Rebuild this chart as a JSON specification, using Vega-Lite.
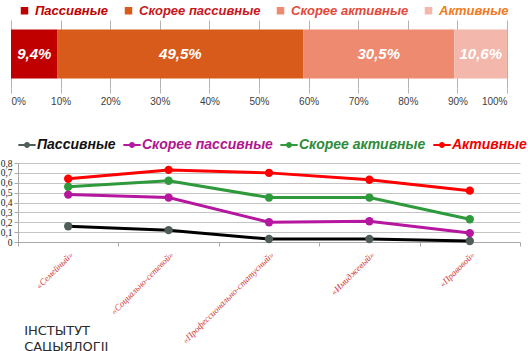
{
  "$schema": "https://vega.github.io/schema/vega-lite/v6.json",
  "background": "white",
  "padding": {"left": 0, "top": 4, "right": 6, "bottom": 0},
  "spacing": 30,
  "title": {
    "text": ["ІНСТЫТУТ", "САЦЫЯЛОГІІ"], "orient": "bottom", "anchor": "start", "frame": "bounds",
    "offset": -20, "dx": 24, "font": "DejaVu Sans", "fontSize": 13, "fontWeight": "normal",
    "color": "#2a2a2a", "lineHeight": 16, "baseline": "top"
  },
  "resolve": {"scale": {"color": "independent", "stroke": "independent"}, "legend": {"color": "independent", "stroke": "independent"}},
  "config": {
    "view": {"stroke": null},
    "font": "Liberation Sans",
    "locale": {"number": {"decimal": ",", "thousands": " ", "grouping": [3], "currency": ["", ""]}}
  },
  "vconcat": [
    {
      "width": 489,
      "height": 68,
      "data": {"values": [
        {"g": "all", "cat": "Пассивные", "share": 0.094, "ord": 1},
        {"g": "all", "cat": "Скорее пассивные", "share": 0.495, "ord": 2},
        {"g": "all", "cat": "Скорее активные", "share": 0.305, "ord": 3},
        {"g": "all", "cat": "Активные", "share": 0.106, "ord": 4}
      ]},
      "transform": [
        {"stack": "share", "groupby": ["g"], "sort": [{"field": "ord"}], "as": ["s0", "s1"]},
        {"calculate": "(datum.s0 + datum.s1) / 2", "as": "mid"}
      ],
      "encoding": {
        "y": {"field": "g", "type": "nominal", "axis": null, "scale": {"paddingInner": 0, "paddingOuter": 0.194}}
      },
      "layer": [
        {
          "mark": {"type": "bar"},
          "encoding": {
            "x": {
              "field": "s0", "type": "quantitative",
              "scale": {"domain": [0, 1], "range": [-7, 489]},
              "axis": {
                "values": [0, 0.1, 0.2, 0.3, 0.4, 0.5, 0.6, 0.7, 0.8, 0.9, 1],
                "format": ".0%", "title": null, "grid": true, "gridColor": "#b4b4b4",
                "domain": false, "tickColor": "#b4b4b4", "tickSize": 5,
                "labelFontSize": 10, "labelColor": "#404040", "labelPadding": 3
              }
            },
            "x2": {"field": "s1"},
            "color": {
              "field": "cat", "type": "nominal",
              "scale": {
                "domain": ["Пассивные", "Скорее пассивные", "Скорее активные", "Активные"],
                "range": ["#c00000", "#d95b1b", "#ed8a6f", "#f3b8ab"]
              },
              "legend": {
                "orient": "top", "direction": "horizontal", "title": null,
                "symbolType": "square", "symbolSize": 56, "symbolStrokeWidth": 0,
                "labelFontSize": 13, "labelFontWeight": "bold", "labelFontStyle": "italic",
                "columnPadding": 13, "labelOffset": 4, "offset": 2,
                "labelColor": {"expr": "datum.value == 'Пассивные' ? '#c00000' : datum.value == 'Скорее пассивные' ? '#c8161b' : datum.value == 'Скорее активные' ? '#e2493a' : '#f07a20'"}
              }
            }
          }
        },
        {
          "mark": {"type": "text", "color": "white", "fontWeight": "bold", "fontStyle": "italic", "fontSize": 15},
          "encoding": {
            "x": {"field": "mid", "type": "quantitative"},
            "text": {"field": "share", "type": "quantitative", "format": ".1%"}
          }
        }
      ]
    },
    {
      "width": 502,
      "height": 79,
      "data": {"values": [
        {"type": "«Семейный»", "series": "Пассивные", "v": 0.16},
        {"type": "«Социально-сетевой»", "series": "Пассивные", "v": 0.12},
        {"type": "«Профессионально-статусный»", "series": "Пассивные", "v": 0.03},
        {"type": "«Имиджевый»", "series": "Пассивные", "v": 0.03},
        {"type": "«Правовой»", "series": "Пассивные", "v": 0.01},
        {"type": "«Семейный»", "series": "Скорее пассивные", "v": 0.48},
        {"type": "«Социально-сетевой»", "series": "Скорее пассивные", "v": 0.45},
        {"type": "«Профессионально-статусный»", "series": "Скорее пассивные", "v": 0.20},
        {"type": "«Имиджевый»", "series": "Скорее пассивные", "v": 0.21},
        {"type": "«Правовой»", "series": "Скорее пассивные", "v": 0.09},
        {"type": "«Семейный»", "series": "Скорее активные", "v": 0.56},
        {"type": "«Социально-сетевой»", "series": "Скорее активные", "v": 0.62},
        {"type": "«Профессионально-статусный»", "series": "Скорее активные", "v": 0.45},
        {"type": "«Имиджевый»", "series": "Скорее активные", "v": 0.45},
        {"type": "«Правовой»", "series": "Скорее активные", "v": 0.23},
        {"type": "«Семейный»", "series": "Активные", "v": 0.64},
        {"type": "«Социально-сетевой»", "series": "Активные", "v": 0.73},
        {"type": "«Профессионально-статусный»", "series": "Активные", "v": 0.70},
        {"type": "«Имиджевый»", "series": "Активные", "v": 0.63},
        {"type": "«Правовой»", "series": "Активные", "v": 0.52}
      ]},
      "encoding": {
        "x": {
          "field": "type", "type": "nominal", "sort": null,
          "scale": {"type": "band", "paddingInner": 0, "paddingOuter": 0},
          "axis": {
            "title": null, "labelAngle": -45, "labelFont": "Liberation Serif", "labelFontStyle": "italic",
            "labelFontSize": 9, "labelColor": "#d0393a", "tickBand": "extent",
            "domainColor": "#a8a8a8", "tickColor": "#a8a8a8", "tickSize": 4, "labelPadding": 4
          }
        },
        "y": {
          "field": "v", "type": "quantitative",
          "scale": {"domain": [0, 0.8]},
          "axis": {
            "title": null, "values": [0, 0.1, 0.2, 0.3, 0.4, 0.5, 0.6, 0.7, 0.8],
            "format": ".1~f", "grid": true, "gridColor": "#c4c4c4", "labelOverlap": false,
            "domainColor": "#a8a8a8", "tickColor": "#a8a8a8", "tickSize": 4,
            "labelFont": "Liberation Serif", "labelFontSize": 9.5, "labelColor": "#202020", "labelPadding": 2
          }
        }
      },
      "layer": [
        {
          "mark": {"type": "line", "strokeWidth": 3},
          "encoding": {
            "stroke": {
              "field": "series", "type": "nominal",
              "scale": {
                "domain": ["Активные", "Скорее активные", "Скорее пассивные", "Пассивные"],
                "range": ["#ff0000", "#2e9a3c", "#b5179e", "#000000"]
              },
              "legend": null
            }
          }
        },
        {
          "mark": {"type": "point", "filled": true, "size": 70, "opacity": 1},
          "encoding": {
            "color": {
              "field": "series", "type": "nominal",
              "scale": {
                "domain": ["Пассивные", "Скорее пассивные", "Скорее активные", "Активные"],
                "range": ["#4f5e59", "#b5179e", "#2e9a3c", "#ff0000"]
              },
              "legend": {
                "orient": "top", "direction": "horizontal", "title": null,
                "symbolType": "M-1,-0.12L1,-0.12L1,0.12L-1,0.12ZM0.34,0A0.34,0.34,0,1,1,-0.34,0A0.34,0.34,0,1,1,0.34,0Z",
                "symbolSize": 300, "symbolStrokeWidth": 0,
                "labelFontSize": 14, "labelFontWeight": "bold", "labelFontStyle": "italic",
                "columnPadding": 7, "labelOffset": 1, "offset": 11,
                "labelColor": {"expr": "datum.value == 'Пассивные' ? '#111111' : datum.value == 'Скорее пассивные' ? '#b0168f' : datum.value == 'Скорее активные' ? '#2e8b3a' : '#f00000'"}
              }
            }
          }
        }
      ]
    }
  ]
}
